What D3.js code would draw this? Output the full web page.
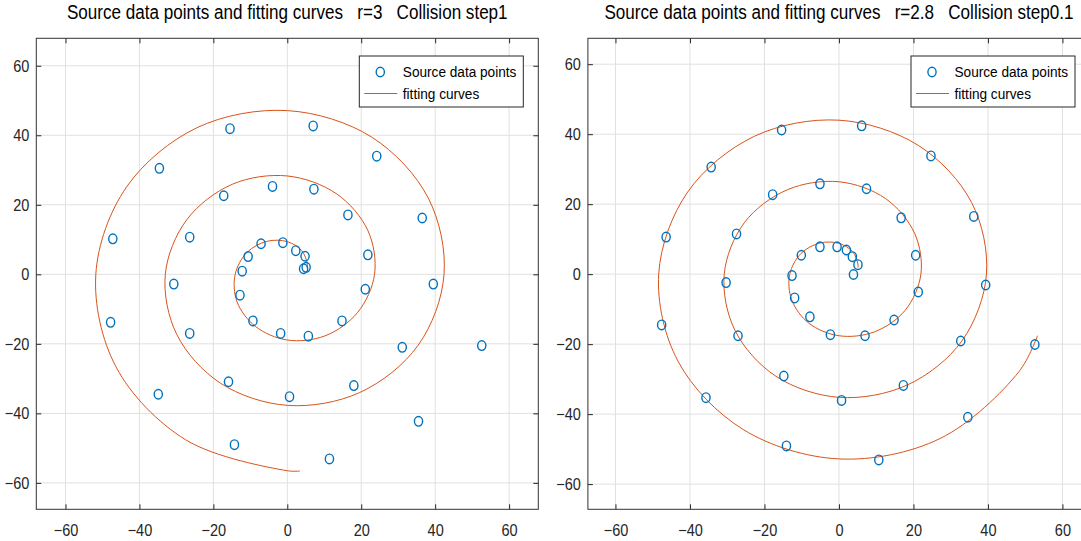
<!DOCTYPE html>
<html>
<head>
<meta charset="utf-8">
<script src="https://cdn.jsdelivr.net/npm/d3@7.9.0/dist/d3.min.js"></script>
<style>
  html, body { margin: 0; padding: 0; background: #fff; }
  svg { display: block; font-family: "Liberation Sans", Arial, Helvetica, sans-serif; }
</style>
</head>
<body>
<svg id="fig" width="1081" height="541"></svg>
<script>
// tick values shared by both panels
const ticks = [-60, -40, -20, 0, 20, 40, 60];

const titles = [
  'Source data points and fitting curves   r=3   Collision step1',
  'Source data points and fitting curves   r=2.8   Collision step0.1'
];
const legendLabels = ['Source data points', 'fitting curves'];

// left panel: source points
const srcX1 = [-15.5, 7.0, 24.2, -34.6, -4.0, 7.2, -17.2, 16.4, 36.5, -47.2, -26.4, -7.1, -1.2, 2.3, 4.8,
  -10.6, 21.8, 4.4, 5.1, -12.2, -30.7, 39.5, -12.8, 21.1, -47.8, -9.3, 14.8, -26.4, -1.8, 5.7,
  31.1, 52.6, -15.9, 18.0, -34.9, 0.6, 35.5, -14.3, 11.4];
const srcY1 = [41.9, 42.7, 34.0, 30.5, 25.3, 24.5, 22.6, 17.1, 16.2, 10.2, 10.7, 8.8, 9.1, 6.8, 5.2,
  5.1, 5.6, 1.6, 2.0, 0.9, -2.8, -2.8, -6.0, -4.3, -13.8, -13.4, -13.4, -17.0, -17.0, -17.8,
  -21.0, -20.5, -30.9, -32.0, -34.5, -35.2, -42.3, -49.0, -53.1];

// left panel: fitted spiral, vertices
const curveX1 = [5.3, 5.4, 3.9, 0, -5.5, -10.9, -14.1, -13.6, -8.6, 0, 10.2, 19.0, 23.6, 21.8, 13.4, 0,
  -14.9, -27.2, -33.0, -29.9, -18.1, 0, 19.6, 35.4, 42.4, 38.1, 22.8, 0, -24.4, -43.5, -51.8,
  -46.3, -27.5, 0, 3.4];
const curveY1 = [2.0, 3.1, 6.8, 9.4, 9.5, 6.3, 0, -7.9, -15.0, -18.9, -17.7, -11.0, 0, 12.6, 23.1, 28.3,
  25.9, 15.7, 0, -17.3, -31.3, -37.7, -34.0, -20.4, 0, 22.0, 39.5, 47.1, 42.2, 25.1, 0,
  -26.7, -47.6, -56.5, -56.6];

// right panel: source points
const srcX2 = [-15.4, 6.1, 24.7, -34.3, -5.1, 7.4, -17.8, 16.7, 36.2, -46.4, -27.5, -10.1, -5.1, -0.5, 2.0,
  3.6, 5.1, 20.6, -12.6, 3.9, -30.3, 39.4, -11.9, 21.3, -47.6, -7.8, 14.8, -27.1, -2.3, 7.0,
  32.7, 52.6, -14.8, 17.3, -35.7, 0.7, 34.6, -14.1, 10.7];
const srcY2 = [41.2, 42.4, 33.8, 30.6, 25.8, 24.4, 22.7, 16.1, 16.5, 10.6, 11.5, 5.4, 7.8, 7.8, 6.9,
  5.0, 2.7, 5.4, -0.4, -0.1, -2.4, -3.1, -6.8, -5.1, -14.5, -12.2, -13.1, -17.6, -17.3, -17.6,
  -19.1, -20.1, -29.1, -31.8, -35.3, -36.1, -40.9, -49.1, -53.1];

// right panel: fitted spiral
const curveX2 = [5.1, 5.1, 3.7, 0, -5.1, -10.2, -13.2, -12.7, -8.1, 0, 9.5, 17.8, 22.0, 20.3, 12.5, 0,
  -13.9, -25.4, -30.8, -27.9, -16.9, 0, 18.3, 33.0, 39.6, 35.6, 21.3, 0, -22.7, -40.6, -48.4,
  -43.2, -25.7, 0, 27.1, 48.3, 53.3];
const curveY2 = [1.9, 2.9, 6.4, 8.8, 8.9, 5.9, 0, -7.3, -14.0, -17.6, -16.5, -10.3, 0, 11.7, 21.6, 26.4,
  24.1, 14.7, 0, -16.1, -29.2, -35.2, -31.7, -19.1, 0, 20.5, 36.8, 44.0, 39.4, 23.5, 0,
  -24.9, -44.4, -52.8, -47.0, -27.9, -17.6];

const blue = '#0072BD';
const orange = '#D95319';
const squeeze = 'scale(0.88,1)'; // the picture is slightly narrowed horizontally

const svg = d3.select('#fig');
const plotTop = 38.3, plotBottom = 509.3;

const panels = [
  { title: titles[0], xs: srcX1, ys: srcY1, cx: curveX1, cy: curveY1,
    left: 36.3, right: 538.3, xDom: [-67.9, 67.9], yDom: [-67.6, 67.9] },
  { title: titles[1], xs: srcX2, ys: srcY2, cx: curveX2, cy: curveY2,
    left: 587.9, right: 1090, xDom: [-67.4, 67.4], yDom: [-67.2, 67.4] }
];

function drawPanel(p) {
  const x = d3.scaleLinear().domain(p.xDom).range([p.left, p.right]);
  const y = d3.scaleLinear().domain(p.yDom).range([plotBottom, plotTop]);
  const g = svg.append('g');

  g.append('rect')
    .attr('x', p.left).attr('y', plotTop)
    .attr('width', p.right - p.left).attr('height', plotBottom - plotTop)
    .attr('fill', '#fff');

  // grid
  g.selectAll('line.gx').data(ticks).join('line')
    .attr('x1', (d) => x(d)).attr('x2', (d) => x(d))
    .attr('y1', plotTop).attr('y2', plotBottom)
    .attr('stroke', '#e0e0e0').attr('stroke-width', 1);
  g.selectAll('line.gy').data(ticks).join('line')
    .attr('y1', (d) => y(d)).attr('y2', (d) => y(d))
    .attr('x1', p.left).attr('x2', p.right)
    .attr('stroke', '#e0e0e0').attr('stroke-width', 1);

  // axes, ticks pointing inward on all four sides
  const xb = g.append('g').attr('transform', `translate(0,${plotBottom})`)
    .call(d3.axisBottom(x).tickValues(ticks).tickSize(-5).tickSizeOuter(0).tickPadding(15));
  const xt = g.append('g').attr('transform', `translate(0,${plotTop})`)
    .call(d3.axisTop(x).tickValues(ticks).tickSize(-5).tickSizeOuter(0).tickFormat(''));
  const yl = g.append('g').attr('transform', `translate(${p.left},0)`)
    .call(d3.axisLeft(y).tickValues(ticks).tickSize(-5).tickSizeOuter(0).tickPadding(0));
  const yr = g.append('g').attr('transform', `translate(${p.right},0)`)
    .call(d3.axisRight(y).tickValues(ticks).tickSize(-5).tickSizeOuter(0).tickFormat(''));

  [xb, xt, yl, yr].forEach((a) => {
    a.select('.domain').remove();
    a.selectAll('.tick line').attr('stroke', '#262626');
    a.selectAll('text')
      .attr('fill', '#262626')
      .style('font-family', '"Liberation Sans", Arial, sans-serif')
      .style('font-size', '16.5px');
  });
  xb.selectAll('text').attr('transform', squeeze);
  yl.selectAll('text').attr('x', 0).attr('transform', `translate(-7,0) ${squeeze}`);

  // box
  g.append('rect')
    .attr('x', p.left).attr('y', plotTop)
    .attr('width', p.right - p.left).attr('height', plotBottom - plotTop)
    .attr('fill', 'none').attr('stroke', '#333').attr('stroke-width', 1);

  // fitted curve
  const line = d3.line()
    .x((i) => x(p.cx[i]))
    .y((i) => y(p.cy[i]))
    .curve(d3.curveCatmullRom.alpha(0.5));
  g.append('path')
    .attr('d', line(d3.range(p.cx.length)))
    .attr('fill', 'none')
    .attr('stroke', orange)
    .attr('stroke-width', 1);

  // source points
  g.selectAll('ellipse.pt').data(d3.range(p.xs.length)).join('ellipse')
    .attr('cx', (i) => x(p.xs[i]))
    .attr('cy', (i) => y(p.ys[i]))
    .attr('rx', 4.1).attr('ry', 4.8)
    .attr('fill', 'none')
    .attr('stroke', blue)
    .attr('stroke-width', 1.4);

  // title
  g.append('text')
    .attr('transform', `translate(${(p.left + p.right) / 2},19) ${squeeze}`)
    .attr('text-anchor', 'middle')
    .attr('fill', '#000')
    .style('font-size', '19.4px')
    .style('white-space', 'pre')
    .attr('xml:space', 'preserve')
    .text(p.title);

  // legend
  const lx = p.right - 15 - 164, ly = 56;
  const lg = g.append('g').attr('transform', `translate(${lx},${ly})`);
  lg.append('rect').attr('width', 164).attr('height', 51)
    .attr('fill', '#fff').attr('stroke', '#262626').attr('stroke-width', 1);
  lg.append('ellipse').attr('cx', 21).attr('cy', 16).attr('rx', 4.1).attr('ry', 4.8)
    .attr('fill', 'none').attr('stroke', blue).attr('stroke-width', 1.4);
  lg.append('line').attr('x1', 5).attr('x2', 38).attr('y1', 37.5).attr('y2', 37.5)
    .attr('stroke', orange).attr('stroke-width', 1);
  legendLabels.forEach((t, i) => {
    lg.append('text')
      .attr('transform', `translate(43.5,${20.5 + i * 22}) ${squeeze}`)
      .attr('fill', '#000')
      .style('font-size', '15.5px')
      .text(t);
  });
}

panels.forEach(drawPanel);
</script>
</body>
</html>
